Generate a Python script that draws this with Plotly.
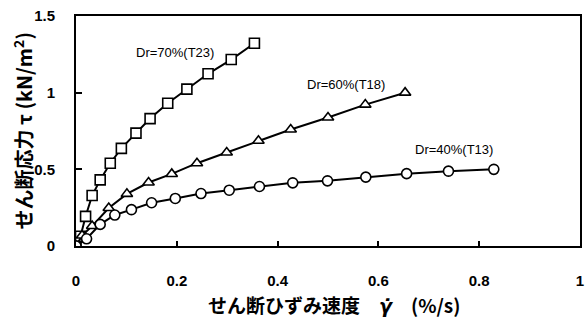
import plotly.graph_objects as go

# Shear strain rate (%/s) and shear stress (kN/m^2) for each relative density
x_t23 = [0.0, 0.009, 0.019, 0.032, 0.048, 0.068, 0.090, 0.119, 0.147, 0.182, 0.220, 0.262, 0.308, 0.354]
y_t23 = [0.0, 0.064, 0.193, 0.329, 0.431, 0.540, 0.637, 0.736, 0.831, 0.931, 1.023, 1.123, 1.216, 1.322]

x_t18 = [0.0, 0.012, 0.032, 0.065, 0.101, 0.144, 0.190, 0.240, 0.299, 0.362, 0.426, 0.500, 0.574, 0.653]
y_t18 = [0.0, 0.068, 0.130, 0.248, 0.340, 0.414, 0.470, 0.540, 0.610, 0.686, 0.760, 0.838, 0.922, 1.000]

x_t13 = [0.0, 0.021, 0.048, 0.077, 0.110, 0.150, 0.197, 0.248, 0.304, 0.364, 0.430, 0.499, 0.575, 0.656, 0.739, 0.829]
y_t13 = [0.0, 0.047, 0.141, 0.202, 0.237, 0.282, 0.310, 0.342, 0.364, 0.388, 0.412, 0.425, 0.449, 0.472, 0.488, 0.500]

series_names = ["Dr=70%(T23)", "Dr=60%(T18)", "Dr=40%(T13)"]
label_pos = [(0.196, 1.263), (0.536, 1.054), (0.749, 0.630)]

x_ticks = [0, 0.2, 0.4, 0.6, 0.8, 1]
x_tick_text = ["0", "0.2", "0.4", "0.6", "0.8", "1"]
y_ticks = [0, 0.5, 1, 1.5]
y_tick_text = ["0", "0.5", "1", "1.5"]

JP = "Noto Sans CJK JP"

fig = go.Figure()

for xs, ys, sym, name in [
    (x_t23, y_t23, "square", series_names[0]),
    (x_t18, y_t18, "triangle-up", series_names[1]),
    (x_t13, y_t13, "circle", series_names[2]),
]:
    fig.add_trace(go.Scatter(
        x=xs, y=ys, mode="lines+markers", name=name,
        line=dict(color="black", width=2),
        marker=dict(symbol=sym, size=10,
                    color="white", line=dict(color="black", width=1.6)),
        showlegend=False,
    ))

for name, (lx, ly) in zip(series_names, label_pos):
    fig.add_annotation(x=lx, y=ly, text=name, showarrow=False,
                       font=dict(family="Liberation Sans", size=13, color="black"),
                       xanchor="center", yanchor="middle")

# Axis titles
fig.add_annotation(
    xref="paper", yref="paper", x=0.512, y=-0.256,
    text=("<b>せん断ひずみ速度　"
          "<span style='font-family:DejaVu Sans'><i>γ̇</i></span>"
          "　(%/s)</b>"),
    showarrow=False, font=dict(family=JP, size=19, color="black"),
    xanchor="center", yanchor="middle", borderpad=0)
fig.add_annotation(
    xref="paper", yref="paper", x=-0.106, y=0.5,
    text="<b>せん断応力 τ (kN/m<sup>2</sup>)</b>", showarrow=False,
    textangle=-90, font=dict(family=JP, size=20, color="black"),
    xanchor="center", yanchor="middle")

fig.update_xaxes(
    range=[0, 1], tickvals=x_ticks, ticktext=x_tick_text,
    ticks="inside", ticklen=5, tickwidth=1.5, tickcolor="black",
    showline=True, linecolor="black", linewidth=2, mirror=True,
    showgrid=False, zeroline=False, ticklabelstandoff=20,
    tickfont=dict(family="Liberation Sans", size=15, color="black", weight="bold"),
)
fig.update_yaxes(
    range=[0, 1.5], tickvals=y_ticks, ticktext=y_tick_text,
    ticks="inside", ticklen=6, tickwidth=1.5, tickcolor="black",
    showline=True, linecolor="black", linewidth=2, mirror=True,
    showgrid=False, zeroline=False, ticklabelstandoff=16,
    tickfont=dict(family="Liberation Sans", size=15, color="black", weight="bold"),
)

fig.update_layout(
    width=587, height=320,
    margin=dict(l=76, r=3, t=16, b=74),
    paper_bgcolor="white", plot_bgcolor="white",
)

fig.write_html("out.html")
